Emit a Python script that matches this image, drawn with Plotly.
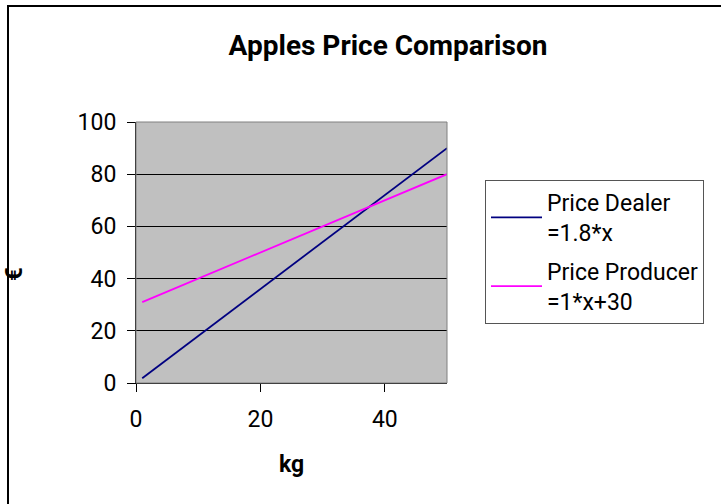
import plotly.graph_objects as go

kg = [1, 2, 3, 4, 5, 6, 7, 8, 9, 10, 12, 14, 16, 18, 20, 22, 24, 26, 28, 30,
      32, 34, 36, 38, 40, 42, 44, 46, 48, 50]
price_dealer = [1.8, 3.6, 5.4, 7.2, 9.0, 10.8, 12.6, 14.4, 16.2, 18.0, 21.6, 25.2,
                28.8, 32.4, 36.0, 39.6, 43.2, 46.8, 50.4, 54.0, 57.6, 61.2, 64.8,
                68.4, 72.0, 75.6, 79.2, 82.8, 86.4, 90.0]
price_producer = [31, 32, 33, 34, 35, 36, 37, 38, 39, 40, 42, 44, 46, 48, 50, 52,
                  54, 56, 58, 60, 62, 64, 66, 68, 70, 72, 74, 76, 78, 80]
series_names = ["Price Dealer<br>=1.8*x", "Price Producer<br>=1*x+30"]
y_ticks = [0, 20, 40, 60, 80, 100]
x_ticks = [0, 20, 40]

FONT = "Roboto, Arial, sans-serif"
FS = 23
L, R, T, B = 136, 274, 122, 121
W, H = 721, 504
pw, ph = W - L - R, H - T - B

fig = go.Figure()
fig.add_trace(go.Scatter(x=kg, y=price_dealer, mode="lines", name=series_names[0],
                         legendgroup="a",
                         line=dict(color="#000080", width=1.8)))
fig.add_trace(go.Scatter(x=kg, y=price_producer, mode="lines", name=series_names[1],
                         legendgroup="b",
                         line=dict(color="#FF00FF", width=1.8)))

fig.update_layout(
    width=W, height=H,
    margin=dict(l=L, r=R, t=T, b=B, autoexpand=False),
    paper_bgcolor="white",
    plot_bgcolor="#C0C0C0",
    font=dict(family=FONT, size=FS, color="black"),
    title=dict(text="<b>Apples Price Comparison</b>", x=388 / W, xanchor="center",
               y=1 - 45 / H, yanchor="middle", font=dict(size=28, family=FONT)),
    xaxis=dict(range=[0, 50], tickvals=x_ticks, showgrid=False, zeroline=False,
               showline=True, linecolor="black", linewidth=1,
               ticks="outside", ticklen=8, tickcolor="black", ticklabelstandoff=7,
               tickfont=dict(size=FS), title=dict(text="<b>kg</b>", font=dict(size=FS), standoff=24)),
    yaxis=dict(range=[0, 100], tickvals=y_ticks, showgrid=True, gridcolor="black",
               gridwidth=1, zeroline=False, showline=True, linecolor="black",
               linewidth=1, ticks="outside", ticklen=8, tickcolor="black",
               ticklabelstandoff=6, tickfont=dict(size=FS)),
    legend=dict(x=(485 - L) / pw, y=(H - B - 180) / ph, xanchor="left", yanchor="top",
                bordercolor="#555555", borderwidth=1, bgcolor="white",
                font=dict(size=FS, family=FONT), tracegroupgap=6, itemwidth=51,
                entrywidth=170, entrywidthmode="pixels"),
    showlegend=True,
)

# y-axis title (rotated euro sign) as annotation
fig.add_annotation(text="<b>€</b>", xref="paper", yref="paper",
                   x=(14 - L) / pw, y=(H - B - 274) / ph, showarrow=False,
                   textangle=-90, font=dict(size=24, family=FONT),
                   xanchor="center", yanchor="middle")

# plot area border (gray)
fig.add_shape(type="rect", xref="paper", yref="paper", x0=0, y0=0, x1=1, y1=1,
              line=dict(color="#808080", width=1), layer="above")
# outer chart border
fig.add_shape(type="rect", xref="paper", yref="paper",
              x0=(8 - L) / pw, y0=(H - B - 6) / ph,
              x1=(W + 5 - L) / pw, y1=(H - B - (H + 5)) / ph,
              line=dict(color="black", width=2), layer="above")

fig.write_html("out.html", config={"displayModeBar": False},
               post_script="document.body.style.margin='0';")
